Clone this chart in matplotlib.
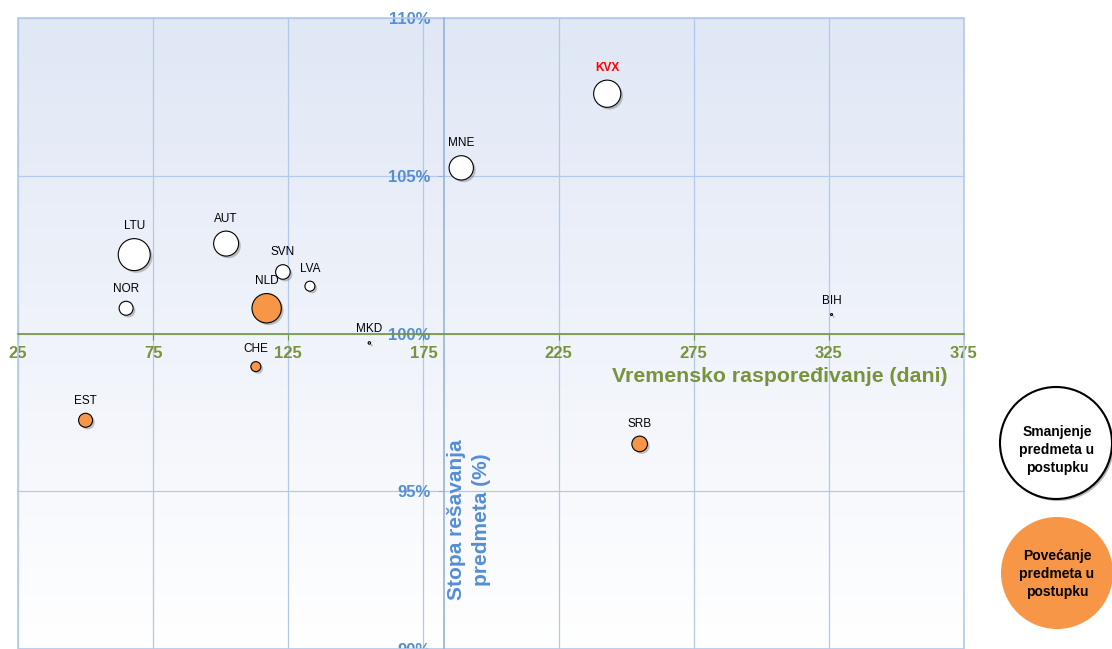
import numpy as np
import matplotlib
matplotlib.use("Agg")
import matplotlib.pyplot as plt
from matplotlib.patches import Circle, Rectangle
import matplotlib.patheffects as pe

plt.rcParams['font.family'] = ['Liberation Sans', 'DejaVu Sans']

# ---- data -------------------------------------------------------------
countries = ["KVX", "MNE", "LTU", "AUT", "SVN", "LVA", "NOR", "NLD",
             "MKD", "CHE", "EST", "SRB", "BIH"]
disposition_time = [243, 189, 68, 102, 123, 133, 65, 117,
                    155, 113, 50, 255, 326]
clearance_rate = [107.6, 105.25, 102.5, 102.85, 101.95, 101.5, 100.8, 100.8,
                  99.7, 98.95, 97.25, 96.5, 100.6]
bubble_size = [185, 148, 256, 156, 53, 25, 49, 216,
               1.5, 25, 49, 61, 1]
backlog_trend = ["down", "down", "down", "down", "down", "down", "down", "up",
                 "down", "up", "up", "up", "down"]

x_ticks = [25, 75, 125, 175, 225, 275, 325, 375]
y_ticks = [90, 95, 100, 105, 110]
y_tick_labels = ["90%", "95%", "100%", "105%", "110%"]
disposition_axis = 182.7   # where the vertical axis crosses

x_title = "Vremensko raspoređivanje (dani)"
y_title = "Stopa rešavanja\npredmeta (%)"
legend_labels = ["Smanjenje\npredmeta u\npostupku", "Povećanje\npredmeta u\npostupku"]

# ---- style ------------------------------------------------------------
GREEN = "#77933c"
BLUE_TXT = "#558ed5"
GRID = "#b3c9ec"
ORANGE = "#f79646"
W, H, DPI = 1112, 649, 100

fig = plt.figure(figsize=(W / DPI, H / DPI), dpi=DPI)
ax = fig.add_axes([18 / W, 0, (964 - 18) / W, (H - 18) / H])

# vertical gradient background: light blue at the top fading to white
grad = np.linspace(0, 1, 256)[:, None]
top = np.array([0.878, 0.906, 0.961])
bot = np.array([1.0, 1.0, 1.0])
img = top[None, None, :] * (1 - grad[:, :, None]) + bot[None, None, :] * grad[:, :, None]
ax.imshow(img, extent=(25, 375, 90, 110), origin="upper", aspect="auto",
          zorder=0, interpolation="bilinear")
ax.set_xlim(25, 375)
ax.set_ylim(90, 110)

ax.set_axisbelow(True)
ax.grid(True, color=GRID, lw=0.9)
ax.add_patch(Rectangle((25, 90), 350, 20, fill=False, ec=GRID, lw=1.2,
                       zorder=1, clip_on=False))

for s in ("top", "right"):
    ax.spines[s].set_visible(False)
ax.spines["bottom"].set_position(("data", 100))
ax.spines["bottom"].set_color(GREEN)
ax.spines["bottom"].set_linewidth(1.2)
ax.spines["left"].set_position(("data", disposition_axis))
ax.spines["left"].set_color("#95b3e0")
ax.spines["left"].set_linewidth(1.2)

ax.set_xticks(x_ticks)
ax.set_xticklabels([str(v) for v in x_ticks])
ax.set_yticks(y_ticks)
ax.set_yticklabels(y_tick_labels)
ax.tick_params(axis="x", direction="out", length=4, color=GREEN, pad=5,
               labelcolor=GREEN, labelsize=12)
ax.tick_params(axis="y", direction="out", length=4, color="#95b3e0", pad=6,
               labelcolor=BLUE_TXT, labelsize=12)
for lab in ax.get_xticklabels() + ax.get_yticklabels():
    lab.set_fontweight("bold")

# ---- bubbles ----------------------------------------------------------
px_per_pt = DPI / 72.0
shadow = [pe.SimplePatchShadow(offset=(1.6, -1.6), shadow_rgbFace="0.35", alpha=0.35),
          pe.Normal()]
for name, x, y, b, trend in zip(countries, disposition_time, clearance_rate,
                                bubble_size, backlog_trend):
    face = ORANGE if trend == "up" else "white"
    sc = ax.scatter([x], [y], s=b * 2.07, c=face, edgecolors="black",
                    linewidths=0.8, zorder=3, clip_on=False)
    sc.set_path_effects(shadow)
    radius_px = np.sqrt(b)
    off_pt = (radius_px + 12.5) / px_per_pt
    is_kvx = name == "KVX"
    ax.annotate(name, (x, y), xytext=(0, off_pt), textcoords="offset points",
                ha="center", va="center", fontsize=8.5,
                color="red" if is_kvx else "black",
                fontweight="bold" if is_kvx else "normal", zorder=4)

# ---- overlay in pixel units: axis titles and legend circles ----------
ov = fig.add_axes([0, 0, 1, 1], zorder=5)
ov.set_xlim(0, W)
ov.set_ylim(H, 0)
ov.axis("off")
ov.patch.set_visible(False)

ov.text(780, 377, x_title, ha="center", va="center", fontsize=15.3,
        fontweight="bold", color=GREEN)
ov.text(469, 520, y_title, ha="center", va="center", fontsize=15,
        fontweight="bold", color=BLUE_TXT, rotation=90,
        multialignment="center", linespacing=1.35)

circ_shadow = [pe.SimplePatchShadow(offset=(1.5, -1.5), shadow_rgbFace="0.3", alpha=0.4),
               pe.Normal()]
c1 = Circle((1056, 443), 56, fc="white", ec="black", lw=1.5)
c1.set_path_effects(circ_shadow)
ov.add_patch(c1)
c2 = Circle((1057, 573), 56, fc=ORANGE, ec="none")
ov.add_patch(c2)
ov.text(1057, 450, legend_labels[0], ha="center", va="center", fontsize=10,
        fontweight="bold", color="black", linespacing=1.4)
ov.text(1057, 574, legend_labels[1], ha="center", va="center", fontsize=10,
        fontweight="bold", color="black", linespacing=1.4)

fig.savefig("out.png", dpi=DPI)
